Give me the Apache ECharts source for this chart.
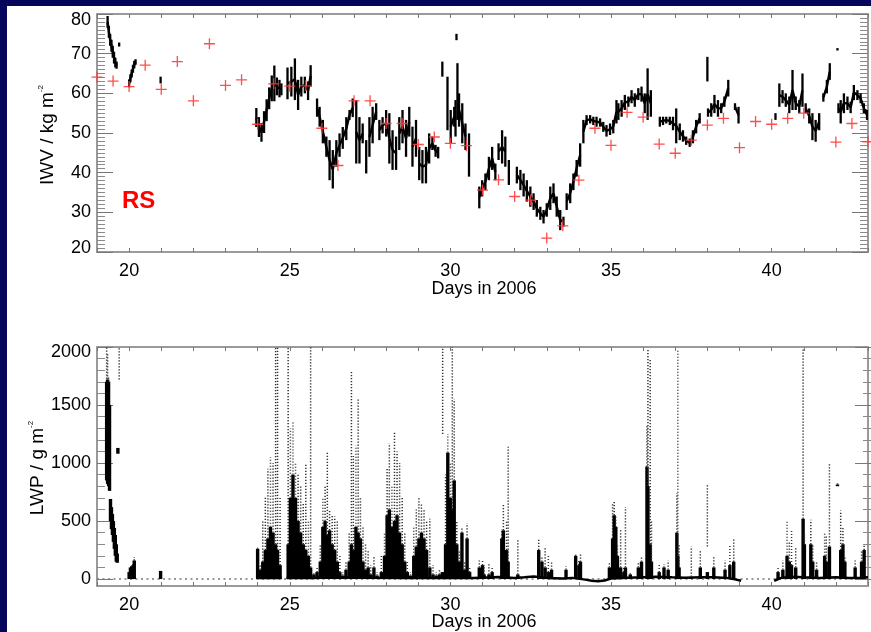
<!DOCTYPE html>
<html><head><meta charset="utf-8">
<script src="https://cdn.jsdelivr.net/npm/echarts@6/dist/echarts.min.js"></script>
<style>html,body{margin:0;padding:0;background:#05055c;}#c{width:871px;height:632px;}</style>
</head><body><div id="c"></div>
<script>
// ---------- DATA ----------
// Radiosonde (RS) IWV, kg m^-2
const rsDays = [19.0,19.5,20.0,20.5,21.0,21.5,22.0,22.5,23.0,23.5,24.0,24.5,25.0,25.5,26.0,26.5,27.0,27.5,28.0,28.5,29.0,29.5,30.0,30.5,31.0,31.5,32.0,32.5,33.0,33.5,34.0,34.5,35.0,35.5,36.0,36.5,37.0,37.5,38.0,38.5,39.0,39.5,40.0,40.5,41.0,42.0,42.5,43.0];
const rsIwv  = [64.1,63.1,61.7,67.1,61.0,68.0,58.1,72.5,62.0,63.4,52.2,62.4,61.8,61.9,51.2,41.8,58.1,58.1,52.4,52.4,47.1,49.0,47.4,46.8,35.6,38.2,34.0,33.1,23.5,26.6,38.1,51.2,46.9,55.2,54.0,47.2,44.9,48.2,52.0,53.7,46.3,52.9,52.2,53.7,55.0,47.7,52.4,47.8];

// Radiometer IWV envelope per time bin: [day, low, high]
const iwvRanges = [
 [19.33,76.5,79.5],[19.37,74,77],[19.41,72,75],[19.45,70.5,73.5],[19.49,69,72],[19.53,67.5,70.5],[19.57,66.5,69],[19.61,66.2,68],[19.69,71.8,72.8],
 [20.00,61.5,63.5],[20.04,62.8,64.8],[20.08,64,66],[20.12,65.2,67.2],[20.16,66.3,68.2],[20.2,67.2,68.6],
 [20.98,62.5,64.2],
 [23.96,51.5,56.3],[24.04,49,54],[24.12,47.8,52.5],[24.2,50,55.5],[24.28,53,58.5],[24.36,56,61.5],[24.44,58,64.5],[24.52,58,67],[24.6,59.5,64],[24.68,59,63.4],[24.74,59.5,62.5],
 [24.93,58.5,66.5],[25.05,59.2,66.7],[25.16,58.3,68.8],[25.26,55.8,63.4],[25.36,59.2,64.2],[25.47,60,64.2],[25.57,58.3,63],[25.65,61.7,67.1],
 [25.85,54.1,58.7],[25.93,51.6,56.6],[26.03,47.4,53.3],[26.14,44,49.1],[26.24,38.1,48.2],[26.34,36.0,45.7],[26.45,41.5,48.2],[26.55,44,49.9],[26.65,46,51.5],[26.76,48.2,54],[26.86,53.3,55.8],[26.96,54,58.7],
 [27.07,42.3,58.3],[27.17,42.3,54],[27.27,47.4,52.4],[27.38,39.8,48.2],[27.48,44,54],[27.58,47.4,56.6],[27.69,53.3,57.5],[27.79,48.2,53.3],[27.89,49.9,54],[28.0,49.1,55.8],
 [28.1,42.3,55],[28.2,40.7,50.7],[28.31,40.7,49.1],[28.41,45.7,54],[28.51,47.4,55.8],[28.62,44,53.3],[28.72,49.1,56.6],[28.82,41.5,51.6],[28.93,44,53.3],[29.03,38.1,46.5],
 [29.13,37.3,45.7],[29.24,37.3,46.5],[29.34,42.3,49.9],[29.44,45.7,49.1],[29.54,44,47],[29.62,43.6,46.5],[29.75,64.2,68],
 [29.91,50.7,64.2],[30.01,47.4,55.8],[30.12,51.6,56.6],[30.16,49.1,58.3],[30.19,73.4,75],[30.22,53.3,67.6],[30.27,51.6,60],[30.37,47.4,57.5],[30.47,45.7,52.4],[30.58,39,49.9],
 [30.9,31,36.5],[30.99,34,38.1],[31.09,35.6,39.8],[31.2,38.1,44],[31.3,40.7,46.5],[31.4,38.1,42.3],[31.5,43.2,47.4],[31.61,42.3,50.7],[31.71,41.5,49.1],[31.82,36.9,43.2],
 [32.07,37.3,41.5],[32.18,35.6,40.7],[32.28,34,39.8],[32.38,32.7,38.1],[32.49,31.4,36.5],[32.59,30.6,34.8],[32.69,28.9,33.1],[32.8,28.1,31.4],[32.9,27.2,30.6],[33.0,28.9,32.3],
 [33.11,30.6,36.5],[33.21,32.3,37.3],[33.31,28.9,34],[33.42,25.5,30.6],[33.52,26.4,28.9],[33.62,30.6,34.8],[33.73,32.3,37.3],[33.83,35.6,39.8],[33.93,39,43.2],[34.04,41.5,47.4],
 [34.14,47.4,53.3],[34.24,52,54.5],[34.35,52.4,54.5],[34.45,52,54.1],[34.55,51.6,54.1],[34.66,51.6,53.7],[34.76,50.3,52.8],[34.86,49.1,52],[34.97,49.5,52.4],[35.07,49.9,53.3],
 [35.17,52.4,58.3],[35.23,53.3,57.5],[35.33,54.1,58.3],[35.43,55.8,59.6],[35.54,56.6,59.2],[35.64,57.5,60.8],[35.74,56.6,60],[35.85,58.3,61.3],[35.95,57.9,61.7],[36.05,55,60],
 [36.14,53.3,66.3],[36.24,54.1,60.8],
 [36.52,51.6,54.1],[36.62,52,54.1],[36.72,52.4,54.1],[36.83,52,54.1],[36.93,50.7,54.1],[37.03,47.4,56.2],[37.14,48.2,52.4],[37.24,47.8,50.7],[37.34,47,49.1],[37.45,46.5,48.6],
 [37.55,47.4,50.7],[37.65,49.9,53.3],[37.76,52.4,55],
 [38.0,63,69.2],[38.02,54.1,56.2],[38.12,54.1,57.5],[38.22,55,59.6],[38.33,54.1,58.3],[38.43,55,57.5],[38.53,56.6,59.2],[38.65,59.2,63.4],
 [38.86,55.8,57.5],[38.97,52.4,56.6],
 [40.12,53.3,55],[40.24,56.6,62.5],[40.34,57.5,60.8],[40.44,56.6,60],[40.55,55,59.2],[40.65,55.8,65.9],[40.75,55.8,59.2],[40.86,55,58.3],[40.96,56.6,65],[41.06,55,57.5],
 [41.17,52.4,56.2],[41.27,48.2,55],[41.37,47.8,53.3],[41.48,50.7,55],
 [41.61,57.9,60],[41.72,60,63.4],[41.81,63.4,67.6],
 [42.05,70.8,71.4],[42.08,55,57.5],[42.15,52.4,58.3],[42.25,55,60],[42.36,55.8,59.2],[42.46,55,57.9],[42.56,58.3,62.1],[42.67,58.3,60.8],[42.77,57.5,60],[42.87,55,57.5],[42.97,53.3,55.8]
];

// LWP per time bin: [day, low, dense top, sparse top] in g m^-2
const lwpSpikes = [
 [19.30,850,1700,2000],[19.33,820,1720,1950],[19.36,800,1700,1750],[19.39,760,1500,1500],[19.42,500,690,690],[19.45,430,620,620],[19.48,380,560,560],[19.51,320,500,500],
 [19.54,260,440,440],[19.57,200,380,380],[19.60,150,300,300],[19.63,140,220,220],[19.65,1080,1130,1130],[19.69,1720,1720,2000],
 [20.00,0,60,60],[20.04,0,100,100],[20.08,0,110,110],[20.12,0,120,150],[20.16,0,160,190],[20.98,0,70,70],
 [24.0,0,260,270],[24.08,0,80,120],[24.16,0,150,500],[24.24,0,250,700],[24.32,0,350,950],[24.4,0,450,1050],[24.48,0,400,1000],[24.56,0,300,2000],[24.62,0,250,2000],[24.7,0,120,700],
 [24.95,0,300,2000],[25.02,0,700,1300],[25.1,0,900,1350],[25.18,0,700,1000],[25.26,0,500,900],[25.34,0,400,800],[25.42,0,300,650],[25.5,0,250,1000],[25.58,0,200,500],[25.65,0,100,2000],
 [25.75,0,40,60],[25.85,0,60,100],[25.95,0,150,300],[26.03,0,450,700],[26.1,0,500,800],[26.17,0,380,1090],[26.24,0,420,600],[26.32,0,300,550],[26.4,0,250,540],[26.48,0,150,500],
 [26.56,0,60,200],[26.65,0,30,60],[26.75,0,80,150],[26.85,0,150,400],[26.92,0,300,1800],[26.98,0,250,1060],[27.06,0,450,1150],[27.13,0,400,1550],[27.2,0,350,700],[27.28,0,150,450],
 [27.36,0,80,300],[27.44,0,100,250],[27.52,0,40,120],[27.62,0,100,200],[27.72,0,30,60],[27.85,0,60,200],[27.95,0,200,400],[28.03,0,550,950],[28.1,0,600,1170],[28.18,0,450,800],
 [28.26,0,500,1260],[28.34,0,550,1100],[28.42,0,400,1000],[28.5,0,300,700],[28.58,0,150,400],[28.66,0,60,150],[28.76,0,30,60],[28.86,0,200,450],[28.94,0,280,600],[29.02,0,350,700],
 [29.1,0,400,650],[29.18,0,350,600],[29.26,0,250,500],[29.36,0,100,520],[29.46,0,40,120],[29.56,0,30,60],[29.66,0,40,80],[29.75,0,60,60],[29.76,1250,1250,2000],
 [29.85,0,300,900],[29.92,0,1090,1250],[30.0,0,700,1000],[30.06,0,600,2000],[30.12,0,850,1550],[30.2,0,300,500],[30.28,0,150,250],[30.36,0,400,450],[30.44,0,80,150],[30.52,0,350,480],[30.6,0,60,100],
 [30.9,0,100,160],[31.0,0,120,160],[31.05,0,40,120],[31.2,0,40,130],[31.3,0,60,110],[31.6,0,350,430],[31.65,0,420,650],[31.75,0,250,500],[31.8,0,150,1140],[32.1,0,40,340],
 [32.75,0,250,350],[32.85,0,150,200],[32.95,0,100,280],[33.05,0,60,200],[33.15,0,80,150],[33.6,0,80,110],[33.9,0,200,220],[34.0,0,120,160],[34.05,0,150,220],
 [34.95,0,100,150],[35.05,0,350,650],[35.1,0,550,670],[35.15,0,450,540],[35.2,0,200,300],[35.3,0,100,420],[35.4,0,60,100],[35.45,0,100,620],[35.6,0,40,60],[35.85,0,100,150],[35.95,0,150,200],
 [36.12,0,970,1320],[36.15,0,800,1980],[36.22,0,300,1900],[36.26,0,150,510],[36.5,0,60,130],[36.65,0,100,130],[36.78,0,80,160],[37.05,0,400,740],[37.08,0,200,1980],[37.12,0,100,300],
 [37.5,0,20,280],[37.78,0,100,250],[38.0,0,60,60],[38.0,280,280,810],[38.2,0,100,190],[38.55,0,80,160],[38.7,0,120,290],[38.82,0,150,340],
 [40.2,0,60,100],[40.35,0,80,160],[40.48,0,200,510],[40.55,0,150,330],[40.62,0,120,420],[40.75,0,100,280],[40.98,0,520,1980],[41.02,0,300,400],[41.22,0,300,510],[41.28,0,150,300],
 [41.4,0,80,150],[41.65,0,200,400],[41.7,0,150,380],[41.8,0,280,1000],[42.05,800,815,830],[42.15,0,250,590],[42.22,0,300,450],[42.28,0,150,200],[42.6,0,100,160],[42.8,0,150,240],[42.88,0,250,300]
];
// LWP baseline pieces [day, value]
const lwpBaseA = [[24.0,10],[24.75,10]];
const lwpBaseB = [[24.9,10],[25.7,10],[26.6,15],[27.5,12],[28.7,10],[29.5,10],[30.7,8],[31.0,12],[31.5,18],[32.0,10],[32.3,15],[32.6,22],[33.0,10],[33.5,5],[33.8,10],[34.2,-5],[34.4,-15],[34.6,-20],[34.8,-12],[35.0,5],[35.5,12],[36.0,15],[36.4,20],[36.9,15],[37.3,12],[37.8,15],[38.2,15],[38.6,10],[38.9,-5],[39.05,-15]];
const lwpBaseC = [[40.08,-15],[40.3,10],[40.6,20],[41.0,15],[41.5,10],[42.0,15],[42.4,8],[42.8,12],[43.0,15]];
const zeroLine = [[19,0],[43,0]];

// ---------- CHART ----------
const FONT = '"Liberation Sans", Arial, Helvetica, sans-serif';
const AXC = '#9a9a9a', TKC = '#777';
const chart = echarts.init(document.getElementById('c'), null, {renderer:'canvas'});

function xAx(grid, pos, labels, show) {
  return {type:'value', gridIndex:grid, position:pos, min:19, max:43, interval:1, show: show!==false,
    axisLine:{show:true, onZero:false, lineStyle:{color:AXC, width:2}},
    axisTick:{show:true, inside:true, length:4, lineStyle:{color:TKC, width:1}},
    axisLabel:{show:labels, margin:10, fontSize:18, color:'#000', fontFamily:FONT,
      formatter: v => (Math.abs(v%5) < 1e-9 ? String(v) : '')},
    splitLine:{show:false}};
}
function yTicks(grid, pos, min, max, interval, minorSplit, labels, line) {
  return {type:'value', gridIndex:grid, position:pos, min, max, interval,
    axisLine:{show:line, onZero:false, lineStyle:{color:AXC, width:2}},
    axisTick:{show:true, inside:true, length:16, lineStyle:{color:TKC, width:1}},
    minorTick:{show:true, splitNumber:minorSplit, length:8, lineStyle:{color:'#8a8a8a', width:1}},
    axisLabel:{show:labels, margin:6, fontSize:18, color:'#000', fontFamily:FONT,
      formatter: v => (v === max ? '{hi|' + v + '}' : (v === min && min > 0 ? '{lo|' + v + '}' : String(v))),
      rich:{hi:{fontSize:18, fontFamily:FONT, color:'#000', padding:[max > 100 ? 10 : 12,0,0,0]},
            lo:{fontSize:18, fontFamily:FONT, color:'#000', padding:[0,0,8,0]}}},
    splitLine:{show:false}, minorSplitLine:{show:false}};
}
function yPlain(grid, pos, min, max) {
  return {type:'value', gridIndex:grid, position:pos, min, max,
    axisLine:{show:true, onZero:false, lineStyle:{color:AXC, width:2}},
    axisTick:{show:false}, axisLabel:{show:false}, splitLine:{show:false}};
}

function renderIwv(params, api) {
  const i = params.dataIndex;
  const x = api.value(0), lo = api.value(1), hi = api.value(2);
  const p1 = api.coord([x, lo]), p2 = api.coord([x, hi]);
  let y2 = p2[1]; if (p1[1] - y2 < 1.5) y2 = p1[1] - 1.5;
  const children = [{type:'line', shape:{x1:p1[0], y1:p1[1], x2:p1[0], y2:y2},
    style:{stroke:'#000', lineWidth:2.3, lineCap:'butt'}}];
  const nx = iwvRanges[i + 1];
  if (nx && nx[0] > x && nx[0] - x < 0.14 && Math.abs((nx[1]+nx[2])/2 - (lo+hi)/2) < 4.5) {
    const a = api.coord([x, (lo+hi)/2]), b = api.coord([nx[0], (nx[1]+nx[2])/2]);
    children.push({type:'line', shape:{x1:a[0], y1:a[1], x2:b[0], y2:b[1]},
      style:{stroke:'#000', lineWidth:2.4}});
  }
  return {type:'group', children};
}
function renderLwp(params, api) {
  const x = api.value(0), lo = api.value(1), dn = api.value(2), sp = api.value(3);
  const pLo = api.coord([x, lo]), pDn = api.coord([x, dn]), pSp = api.coord([x, sp]);
  const children = [];
  if (sp > dn) children.push({type:'line', shape:{x1:pLo[0], y1:pDn[1], x2:pLo[0], y2:pSp[1]},
      style:{stroke:'#333', lineWidth:1.5, lineDash:[1.2,1.8]}});
  if (dn > lo || lo === 0) {
    let yd = pDn[1]; if (pLo[1] - yd < 1.5) yd = pLo[1] - 1.5;
    children.push({type:'line', shape:{x1:pLo[0], y1:pLo[1], x2:pLo[0], y2:yd},
      style:{stroke:'#000', lineWidth:3.4, lineCap:'butt'}});
  }
  return {type:'group', children};
}

const plusPath = 'path://M4.4,0h1.2v4.4h4.4v1.2h-4.4v4.4h-1.2v-4.4h-4.4v-1.2h4.4z';

const option = {
  backgroundColor:'#05055c',
  animation:false,
  grid:[
    {left:97, top:14, width:775, height:238},
    {left:97, top:347, width:775, height:239},
    {left:97, top:347, width:775, height:232}
  ],
  xAxis:[
    xAx(0,'bottom',true), xAx(0,'top',false),
    xAx(1,'bottom',true), xAx(1,'top',false),
    {type:'value', gridIndex:2, min:19, max:43, show:false}
  ],
  yAxis:[
    yTicks(0,'left',20,80,10,10,true,true), yTicks(0,'right',20,80,10,10,false,true),
    yPlain(1,'left',-60,2000), yPlain(1,'right',-60,2000),
    yTicks(2,'left',0,2000,500,5,true,false), yTicks(2,'right',0,2000,500,5,false,false)
  ],
  series:[
    {type:'custom', name:'IWV', xAxisIndex:0, yAxisIndex:0, renderItem:renderIwv,
      encode:{x:0, y:[1,2]}, data:iwvRanges, clip:true, z:3},
    {type:'scatter', name:'RS', xAxisIndex:0, yAxisIndex:0, symbol:plusPath, symbolSize:11,
      itemStyle:{color:'#ff3b3b', opacity:0.9}, data:rsDays.map((d,i)=>[d, rsIwv[i]]), z:4, clip:false},
    {type:'line', xAxisIndex:2, yAxisIndex:2, data:zeroLine, symbol:'none',
      lineStyle:{color:'#777', width:1.6, type:[2,3.5]}, z:1},
    {type:'line', xAxisIndex:2, yAxisIndex:2, data:lwpBaseA, symbol:'none', lineStyle:{color:'#000', width:2.5}, z:2},
    {type:'line', xAxisIndex:2, yAxisIndex:2, data:lwpBaseB, symbol:'none', lineStyle:{color:'#000', width:2.5}, z:2},
    {type:'line', xAxisIndex:2, yAxisIndex:2, data:lwpBaseC, symbol:'none', lineStyle:{color:'#000', width:2.5}, z:2},
    {type:'custom', name:'LWP', xAxisIndex:2, yAxisIndex:2, renderItem:renderLwp,
      encode:{x:0, y:[1,2,3]}, data:lwpSpikes, clip:true, z:3}
  ],
  graphic:[
    {type:'rect', shape:{x:7, y:6, width:864, height:626}, style:{fill:'#fff'}, z:-10, silent:true},
    {type:'text', x:122, y:201, style:{text:'RS', fill:'#ff0000', font:'bold 24px ' + FONT, align:'left', verticalAlign:'middle'}, z:10},
    {type:'text', x:484, y:289, style:{text:'Days in 2006', fill:'#000', font:'18px ' + FONT, align:'center', verticalAlign:'middle'}, z:10},
    {type:'text', x:484, y:622, style:{text:'Days in 2006', fill:'#000', font:'18px ' + FONT, align:'center', verticalAlign:'middle'}, z:10},
    {type:'text', x:48, y:135, rotation:Math.PI/2,
      style:{text:'IWV / kg m{s|-2}', fill:'#000', font:'19px ' + FONT, align:'center', verticalAlign:'middle',
        rich:{s:{fontSize:8, fontFamily:FONT, fill:'#000', verticalAlign:'top', lineHeight:22}}}, z:10},
    {type:'text', x:38, y:468, rotation:Math.PI/2,
      style:{text:'LWP / g m{s|-2}', fill:'#000', font:'19px ' + FONT, align:'center', verticalAlign:'middle',
        rich:{s:{fontSize:8, fontFamily:FONT, fill:'#000', verticalAlign:'top', lineHeight:22}}}, z:10}
  ]
};
chart.setOption(option);
</script>
</body></html>
